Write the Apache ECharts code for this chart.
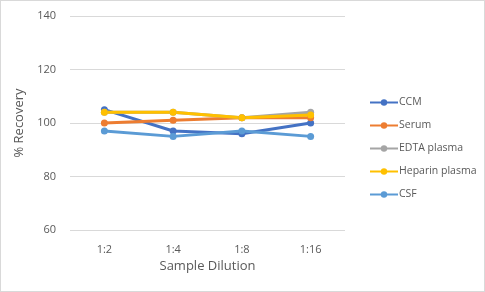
<!DOCTYPE html>
<html>
<head>
<meta charset="utf-8">
<script src="https://cdn.jsdelivr.net/npm/echarts@6/dist/echarts.min.js"></script>
<style>
  html, body { margin: 0; padding: 0; background: #fff; }
  #chart { width: 483px; height: 290px; border: 1px solid #d9d9d9; }
</style>
</head>
<body>
<div id="chart"></div>
<script>
// dilutions on the x axis
const dilutions = ['1:2', '1:4', '1:8', '1:16'];
// % recovery per sample type
const ccm = [105, 97, 96, 100];
const serum = [100, 101, 102, 102];
const edta = [104, 104, 102, 104];
const heparin = [104, 104, 102, 103];
const csf = [97, 95, 97, 95];

const names = ['CCM', 'Serum', 'EDTA plasma', 'Heparin plasma', 'CSF'];
const colors = ['#4472C4', '#ED7D31', '#A5A5A5', '#FFC000', '#5B9BD5'];
const values = [ccm, serum, edta, heparin, csf];

const chart = echarts.init(document.getElementById('chart'));

chart.setOption({
  animation: false,
  color: colors,
  textStyle: { fontFamily: 'Open Sans' },
  grid: { left: 69, right: 139, top: 15, bottom: 61 },
  legend: {
    orient: 'vertical',
    left: 363,
    top: 91,
    itemWidth: 28,
    itemHeight: 8,
    itemGap: 12,
    textStyle: { color: '#595959', fontSize: 10.5, padding: [0, 0, 0, -4] },
    data: names
  },
  xAxis: {
    type: 'category',
    data: dilutions,
    name: 'Sample Dilution',
    nameLocation: 'middle',
    nameGap: 29,
    nameTextStyle: { color: '#595959', fontSize: 13 },
    axisLine: { show: false },
    axisTick: { show: false },
    axisLabel: { color: '#595959', fontSize: 11, margin: 14 }
  },
  yAxis: {
    type: 'value',
    min: 60,
    max: 140,
    interval: 20,
    name: '% Recovery',
    nameLocation: 'middle',
    nameGap: 37,
    nameTextStyle: { color: '#595959', fontSize: 13 },
    axisLabel: { color: '#595959', fontSize: 11, margin: 14 },
    splitLine: { lineStyle: { color: '#d9d9d9' } }
  },
  series: names.map((n, i) => ({
    name: n,
    type: 'line',
    data: values[i],
    symbol: 'circle',
    symbolSize: 7,
    lineStyle: { width: 3 },
    itemStyle: { color: colors[i] }
  }))
});
</script>
</body>
</html>
